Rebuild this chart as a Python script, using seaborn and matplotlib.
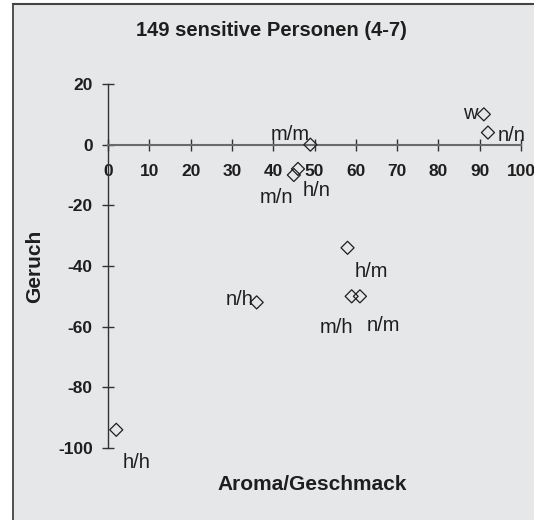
import matplotlib
matplotlib.use('Agg')
import matplotlib.pyplot as plt
import seaborn as sns
import pandas as pd
from matplotlib.patches import Rectangle
from matplotlib.lines import Line2D

# Werte
labels = ['w', 'n/n', 'm/m', 'h/n', 'm/n', 'h/m', 'm/h', 'n/m', 'n/h', 'h/h']
aroma = [91, 92, 49, 46, 45, 58, 59, 61, 36, 2]
geruch = [10, 4, 0, -8, -10, -34, -50, -50, -52, -94]

x_ticks = [0, 10, 20, 30, 40, 50, 60, 70, 80, 90, 100]
y_ticks = [20, 0, -20, -40, -60, -80, -100]

df = pd.DataFrame({'label': labels, 'aroma': aroma, 'geruch': geruch})

# Beschriftungs-Versatz in Pixeln (dx, dy, ha)
label_pos = {
    'w': (-6, 1, 'right'),
    'n/n': (10, -3, 'left'),
    'm/m': (-1, 10, 'right'),
    'h/n': (5, -22, 'left'),
    'm/n': (-1, -23, 'right'),
    'h/m': (7, -24, 'left'),
    'm/h': (2, -31, 'right'),
    'n/m': (7, -29, 'left'),
    'n/h': (-3, 3, 'right'),
    'h/h': (6, -33, 'left'),
}

plt.rcParams['font.family'] = ['Liberation Sans', 'DejaVu Sans']
bg = '#e6e7e9'
ink = '#1e1e1e'

fig = plt.figure(figsize=(5.34, 5.20), dpi=100)
fig.patch.set_facecolor('white')
fig.patches.append(Rectangle((13 / 534, 0), 1, 1 - 4 / 520, transform=fig.transFigure,
                             facecolor=bg, edgecolor='none', zorder=-10))
fig.lines.append(Line2D([13 / 534, 13 / 534], [0, 1 - 4 / 520], transform=fig.transFigure,
                        color='#333333', lw=1.2))
fig.lines.append(Line2D([13 / 534, 1], [1 - 4 / 520, 1 - 4 / 520], transform=fig.transFigure,
                        color='#444444', lw=1.5))

ax = fig.add_axes([108 / 534, 1 - 448 / 520, 413 / 534, 364 / 520])
ax.set_facecolor('none')

sns.scatterplot(data=df, x='aroma', y='geruch', marker='D', s=44,
                facecolor='none', edgecolor=ink, linewidth=0.9, ax=ax, clip_on=False, zorder=5)

for _, r in df.iterrows():
    dx, dy, ha = label_pos[r['label']]
    ax.annotate(r['label'], (r['aroma'], r['geruch']), xytext=(dx, dy),
                textcoords='offset pixels', ha=ha, va='center', fontsize=14.5,
                color=ink, annotation_clip=False)

ax.set_xlim(0, 100)
ax.set_ylim(-100, 20)

ax.spines['left'].set_position(('data', 0))
ax.spines['bottom'].set_position(('data', 0))
ax.spines['top'].set_visible(False)
ax.spines['right'].set_visible(False)
ax.spines['left'].set_color('#333333')
ax.spines['left'].set_linewidth(1.0)
ax.spines['bottom'].set_color('#6a6a6a')
ax.spines['bottom'].set_linewidth(1.5)
ax.tick_params(axis='both', direction='inout', length=8, width=1.0, color='#333333',
               labelsize=12.5, labelcolor=ink)
ax.tick_params(axis='x', pad=10)
ax.tick_params(axis='y', pad=7)
ax.set_xlabel('')
ax.set_ylabel('')

ax.set_xticks(x_ticks)
ax.set_yticks(y_ticks)
ax.set_xticklabels([str(t) for t in x_ticks])
ax.set_yticklabels([str(t) for t in y_ticks])
for t in ax.get_xticklabels() + ax.get_yticklabels():
    t.set_fontweight('bold')
    t.set_fontsize(12.5)

fig.text(271 / 534, 1 - 30 / 520, '149 sensitive Personen (4-7)', ha='center', va='center',
         fontsize=14.5, fontweight='bold', color=ink)
fig.text(312 / 534, 1 - 484 / 520, 'Aroma/Geschmack', ha='center', va='center',
         fontsize=15, fontweight='bold', color=ink)
fig.text(35 / 534, 1 - 266 / 520, 'Geruch', ha='center', va='center', rotation=90,
         fontsize=15, fontweight='bold', color=ink)

plt.savefig('out.png', dpi=100)
